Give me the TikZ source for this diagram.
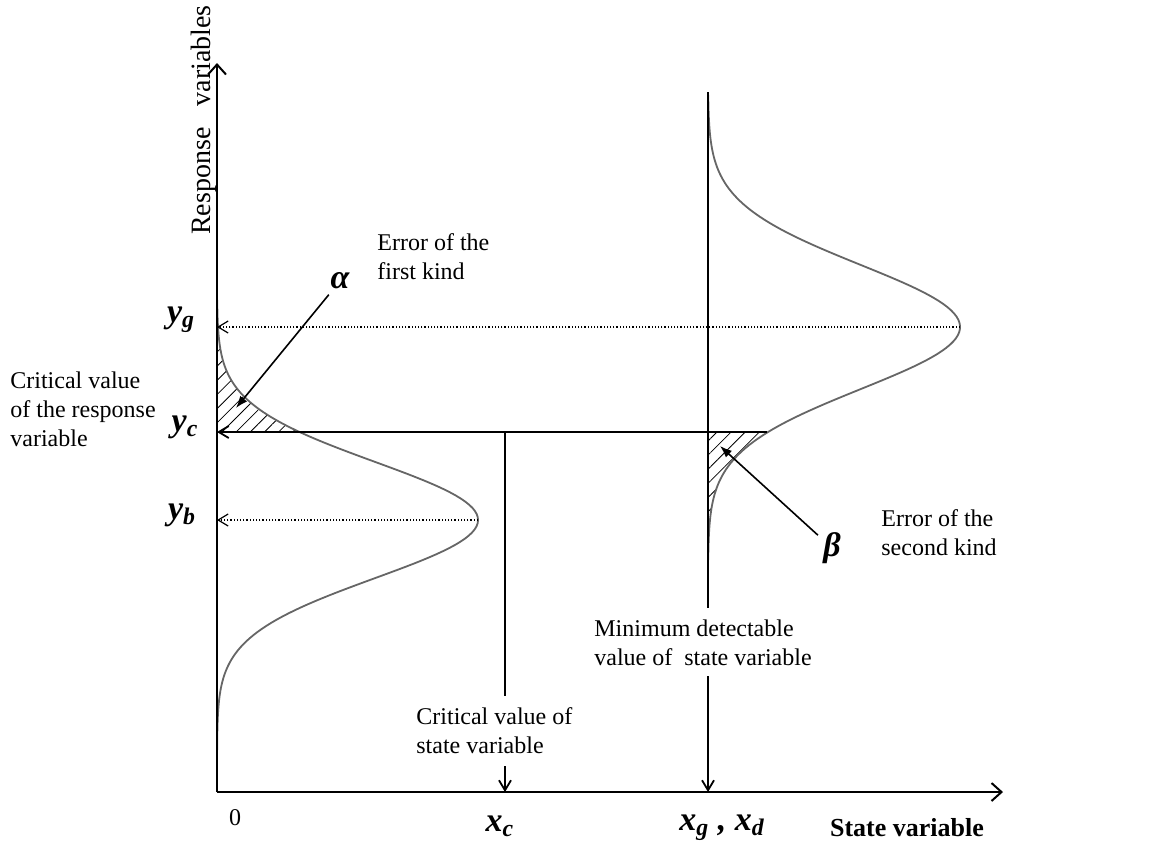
\documentclass[tikz,border=0pt]{standalone}
\usepackage{fontspec}
\setmainfont{Liberation Serif}
\usetikzlibrary{arrows.meta, patterns.meta, positioning}

\begin{document}
\begin{tikzpicture}[
    x=0.5pt, y=-0.5pt,
    font=\fontsize{12}{14.5}\selectfont,
    axis/.style={line width=1pt, -{Straight Barb[length=5pt,width=9pt]}},
    guide/.style={line width=0.6pt, densely dotted, -{Straight Barb[length=5pt,width=6pt]}},
    level/.style={line width=0.9pt},
    tick/.style={line width=0.9pt, -{Straight Barb[length=5pt,width=6pt]}},
    pointer/.style={line width=0.8pt, -{Latex[length=6pt,width=4.5pt]}},
    bell/.style={draw=black!60, line width=0.9pt},
    hatch/.style={pattern={Lines[angle=45,distance=5pt,line width=0.4pt]}},
    note/.style={align=left, inner sep=1pt},
    sym/.style={font=\fontsize{17}{19}\selectfont\bfseries\itshape, inner sep=1pt},
    greek/.style={font=\fontsize{17}{19}\selectfont\bfseries\itshape, inner sep=1pt}
]
\useasboundingbox (0,0) rectangle (1161,852);

% axes and reference points
\coordinate (o) at (217,792);
\coordinate (ytop) at (217,63);
\coordinate (xend) at (1003,792);
\coordinate (yg) at (217,327);
\coordinate (yc) at (217,432);
\coordinate (yb) at (217,520);
\coordinate (pkb) at (478,520);
\coordinate (pkg) at (960,327);
\coordinate (cc) at (505,432);
\coordinate (ce) at (767,432);
\coordinate (xc) at (505,792);
\coordinate (xd) at (708,792);
\coordinate (dtop) at (708,92);
\coordinate (atip) at (236,408);
\coordinate (btip) at (720,446);

% shaded tails
\path[hatch] (217,312) -- plot[domain=312:432, samples=60, variable=\t]
    ({217+261*exp(-((\t-520)/58)^2/2)}, \t) -- (yc) -- cycle;
\path[hatch] (708,432) -- plot[domain=432:560, samples=60, variable=\t]
    ({708+252*exp(-((\t-327)/62)^2/2)}, \t) -- (708,560) -- cycle;

% the two distributions
\draw[bell] plot[domain=300:762, samples=150, variable=\t]
    ({217+261*exp(-((\t-520)/58)^2/2)}, \t);
\draw[bell] plot[domain=95:560, samples=150, variable=\t]
    ({708+252*exp(-((\t-327)/62)^2/2)}, \t);

\draw[axis] (o) -- (ytop);
\draw[axis] (o) -- (xend);

\draw[guide] (pkg) -- (yg);
\draw[guide] (pkb) -- (yb);
\draw[tick] (ce) -- (yc);

% text
\node[rotate=90, font=\fontsize{14}{16}\selectfont] (resp) at (204,120) {Response\ \ \ variables};
\node[font=\fontsize{13}{15}\selectfont\bfseries] (statelab) at (907,828) {State variable};
\node (zero) at (235,818) {0};

\node[sym] (ygl) at (181,320) {y\textsubscript{g}};
\node[sym] (ycl) at (185,427) {y\textsubscript{c}};
\node[sym] (ybl) at (182,515) {y\textsubscript{b}};
\node[sym] (xcl) at (500,826) {x\textsubscript{c}};
\node[sym] (xgl) at (722,828) {x\textsubscript{g} , x\textsubscript{d}};
\node[greek] (al) at (340,281) {α};
\node[greek] (bl) at (832,548) {β};

\node[note, anchor=west] (crit) at (8,409) {Critical value\\of the response\\variable};
\node[note, anchor=west] (err1) at (375,257) {Error of the\\first kind};
\node[note, anchor=west] (err2) at (879,533) {Error of the\\second kind};
\node[note, anchor=west] (mindet) at (592,643) {Minimum detectable\\value of\ \ state variable};
\node[note, anchor=west] (critstate) at (414,731) {Critical value of\\state variable};

% vertical markers
\draw[level, shorten >=5pt] (cc) -- (critstate.north -| cc);
\draw[tick, shorten <=5pt] (critstate.south -| xc) -- (xc);
\draw[level, shorten >=5pt] (dtop) -- (mindet.north -| xd);
\draw[tick, shorten <=4pt] (mindet.south -| xd) -- (xd);

\draw[pointer, shorten <=2pt] (al) -- (atip);
\draw[pointer, shorten <=2pt] (bl) -- (btip);
\end{tikzpicture}
\end{document}
